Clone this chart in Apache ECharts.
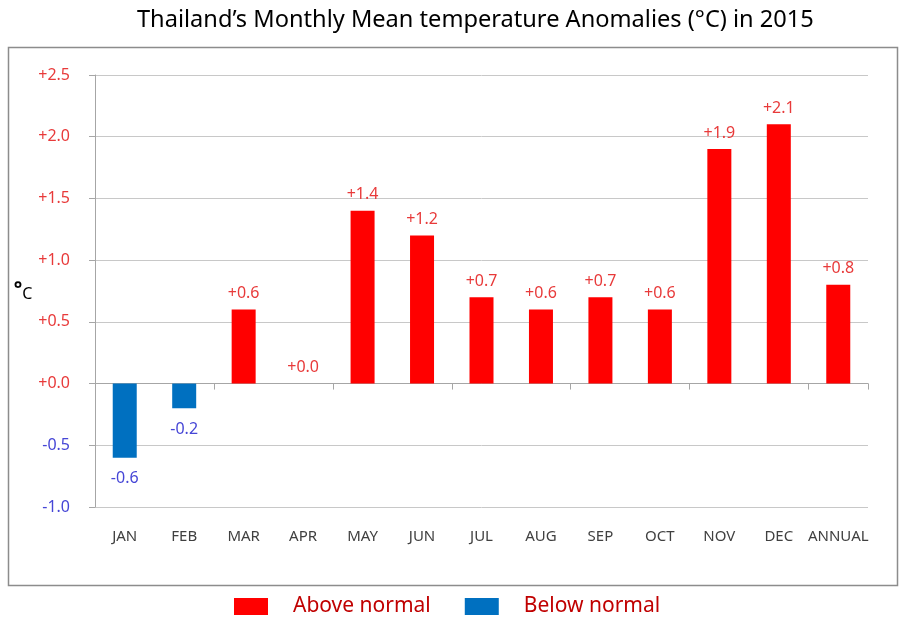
<!DOCTYPE html>
<html><head><meta charset="utf-8">
<script src="https://cdn.jsdelivr.net/npm/echarts@6/dist/echarts.min.js"></script>
<style>html,body{margin:0;padding:0;background:#fff}#c{width:912px;height:627px}</style>
</head><body><div id="c"></div>
<script>
const categories = ['JAN','FEB','MAR','APR','MAY','JUN','JUL','AUG','SEP','OCT','NOV','DEC','ANNUAL'];
const anomalies = [-0.6,-0.2,0.6,0.0,1.4,1.2,0.7,0.6,0.7,0.6,1.9,2.1,0.8];
const aboveValues = anomalies.map(v => v >= 0 ? v : '-');
const belowValues = anomalies.map(v => v < 0 ? v : '-');
const yTicks = [-1.0,-0.5,0.0,0.5,1.0,1.5,2.0,2.5];

const FONT = 'Noto Sans';
const fmt = v => (v >= 0 ? '+' : '') + Number(v).toFixed(1);
const chart = echarts.init(document.getElementById('c'));
chart.setOption({
  animation: false,
  textStyle: {fontFamily: FONT},
  title: {text: 'Thailand\u2019s Monthly Mean temperature Anomalies (\u00B0C) in 2015', left: 132, top: 3,
    textStyle: {fontFamily: FONT, fontSize: 23.6, fontWeight: 'normal', color: '#000'}},
  graphic: [{type: 'rect', shape: {x: 8.5, y: 47.5, width: 889, height: 538}, style: {fill: 'none', stroke: '#8c8c8c', lineWidth: 1.5}, silent: true, z: -1}],
  legend: {left: 229, top: 591, itemWidth: 34, itemHeight: 17, itemGap: 34, icon: 'rect',
    data: ['Above normal','Below normal'],
    textStyle: {fontFamily: FONT, fontSize: 21, color: '#c00000', padding: [0,0,0,20]}},
  grid: {left: 95, right: 44, top: 75, bottom: 120, containLabel: false},
  xAxis: [
    {type: 'category', data: categories, axisLine: {onZero: true, lineStyle: {color: '#a6a6a6'}},
     axisTick: {show: true, length: 6, lineStyle: {color: '#a6a6a6'}}, axisLabel: {show: false}},
    {type: 'category', data: categories, position: 'bottom', axisLine: {show: false}, axisTick: {show: false},
     axisLabel: {fontFamily: FONT, fontSize: 15, color: '#404040', margin: 22, interval: 0}}
  ],
  yAxis: {type: 'value', min: -1.0, max: 2.5, interval: 0.5,
    name: '{d|\u00B0}{c|C}', nameLocation: 'middle', nameRotate: 0, nameGap: 62,
    nameTextStyle: {padding: [6,0,0,0], rich: {d: {fontSize: 20, fontWeight: 'bold', color: '#000', padding: [0,0,8,0]}, c: {fontSize: 16, color: '#000'}}},
    axisLine: {show: true, lineStyle: {color: '#a6a6a6'}},
    axisTick: {show: true, length: 6, lineStyle: {color: '#a6a6a6'}},
    splitLine: {lineStyle: {color: '#c8c8c8'}},
    axisLabel: {fontFamily: FONT, fontSize: 16, margin: 25, formatter: v => fmt(v),
      color: v => (Number(v) >= 0 ? '#e83a3a' : '#4646d6')}},
  series: [
    {name: 'Above normal', type: 'bar', stack: 'a', data: aboveValues, barWidth: 24,
     itemStyle: {color: '#ff0000'},
     label: {show: true, position: 'top', distance: 8, formatter: p => fmt(p.value), fontFamily: FONT, fontSize: 16, color: '#e83a3a'}},
    {name: 'Below normal', type: 'bar', stack: 'a', data: belowValues, barWidth: 24,
     itemStyle: {color: '#0070c0'},
     label: {show: true, position: 'bottom', distance: 13, formatter: p => fmt(p.value), fontFamily: FONT, fontSize: 16, color: '#4646d6'}}
  ]
});
</script></body></html>
